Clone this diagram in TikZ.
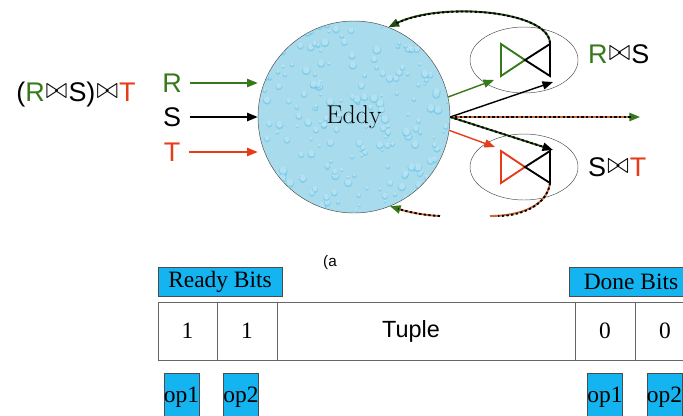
\documentclass[tikz,border=0pt]{standalone}
\usepackage{graphicx}
\usepackage{fontspec}
\newfontfamily\serifbits{Liberation Serif}
\newfontfamily\sanslbl{Liberation Sans}
\newcommand{\jn}{\hspace{0.04em}\raisebox{0.12em}{\resizebox{0.8em}{0.52em}{$\bowtie$}}\hspace{0.04em}}
\usetikzlibrary{arrows.meta,shapes.geometric,calc}

\definecolor{relgreen}{RGB}{55,120,25}
\definecolor{relred}{RGB}{232,60,25}
\definecolor{darkgreen}{RGB}{35,75,20}
\definecolor{rustorange}{RGB}{205,105,55}
\definecolor{bitcyan}{RGB}{20,180,240}
\definecolor{water}{RGB}{168,220,236}

\begin{document}
\begin{tikzpicture}[x=0.03cm,y=-0.03cm]
	\tikzset{
	  rel/.style={font=\sanslbl\fontsize{23}{27}\selectfont,inner sep=0pt},
	  feed/.style={line width=1.2pt,-{Triangle[length=9pt,width=7pt]}},
	  loopback/.style 2 args={line width=1.6pt,draw=#1,
	    postaction={draw=#2,dash pattern=on 2pt off 2pt,line width=1.6pt,-,shorten >=7pt}},
	  joinop/.style={ellipse,draw=black!70,thin,minimum width=3.24cm,minimum height=1.98cm},
	  cell/.style={draw=black!60,minimum height=1.74cm,inner sep=0pt,
	    font=\serifbits\fontsize{20}{24}\selectfont},
	  bits/.style={draw=black!70,fill=bitcyan,inner sep=0pt,minimum height=0.87cm,
	    font=\serifbits\fontsize{20}{24}\selectfont},
	  opbox/.style={bits,minimum width=1.05cm,minimum height=1.44cm},
	}

          \tikzset{
            pics/bowtie/.style={code={
              \draw[#1,line width=1.6pt,line join=miter]
                (-23,-16) -- (1,0) -- (-23,16) -- cycle;
              \draw[black,line width=1.6pt]
                (26,-19) -- (26,16) -- (1,0) -- (26,-16);
            }},
          }

        \useasboundingbox (0,0) rectangle (683,415);

        %QUERY
        \node[rel] (expr) at (76,95)
          {(\textcolor{relgreen}{R}\jn S)\jn\textcolor{relred}{T}};

        %INPUTS
        \node[rel,text=relgreen] (inR) at (172,83) {R};
        \node[rel] (inS) at (172,117) {S};
        \node[rel,text=relred] (inT) at (172,152) {T};

        %EDDY
        \node[circle,draw=black!70,fill=water,minimum size=5.76cm,inner sep=0pt] (eddy) at (354,117) {};
        \begin{scope}
          \clip (eddy.center) circle[radius=2.86cm];
          \pgfmathsetseed{11}
          \foreach \k in {1,...,240}{
            \pgfmathsetmacro{\dx}{354+98*rand}
            \pgfmathsetmacro{\dy}{117+98*rand}
            \pgfmathsetmacro{\dr}{0.04+0.10*rnd}
            \fill[cyan!50!water,opacity=0.5] (\dx,\dy+1) circle[radius=\dr cm];
            \fill[white,opacity=0.4] (\dx,\dy) circle[radius=0.8*\dr cm];
          }
        \end{scope}
        \node[font=\fontsize{22}{26}\selectfont] (eddyname) at (eddy) {Eddy};

        \draw[feed,relgreen] ([xshift=0.25cm]inR.east) -- (inR -| eddy.west);
        \draw[feed,black] ([xshift=0.25cm]inS.east) -- (inS -| eddy.west);
        \draw[feed,relred] ([xshift=0.25cm]inT.east) -- (inT -| eddy.west);

        %JOINS
        \node[joinop] (joinRS) at (524,60) {};
        \node[joinop] (joinST) at (524,167) {};
        \pic at (joinRS) {bowtie=relgreen};
        \pic at (joinST) {bowtie=relred};
        \node[rel,anchor=west] (lblRS) at (588,54) {\textcolor{relgreen}{R}\jn S};
        \node[rel,anchor=west] (lblST) at (588,167) {S\jn\textcolor{relred}{T}};

        %ROUTING
        \coordinate (exit) at (640,117);
        \draw[feed,relgreen] (eddy.12) -- ($(joinRS)+(-30,20)$);
        \draw[feed,black] (eddy.east) -- ($(joinRS)+(29,22)$);
        \draw[feed,relred] (eddy.-8) -- ($(joinST)+(-29,-20)$);
        \draw[loopback={rustorange}{black},-{Triangle[length=9pt,width=7pt,color=relgreen]}]
          (eddy.east) -- (exit);
        \draw[loopback={darkgreen}{black},-{Triangle[length=9pt,width=7pt,color=black]}]
          (eddy.east) -- ($(joinST)+(29,-17)$);

        % back to the eddy
        \draw[loopback={darkgreen}{black},-{Triangle[length=9pt,width=7pt,color=darkgreen]}]
          ($(joinRS)+(26,-17)$) .. controls (548,10) and (440,2) .. (eddy.69);
        \coordinate (gapR) at (490,216);
        \coordinate (gapL) at (440,216);
        \draw[loopback={rustorange}{black}]
          ($(joinST)+(26,16)$) .. controls (547,206) and (520,216) .. (gapR);
        \draw[loopback={rustorange}{black},-{Triangle[length=9pt,width=7pt,color=relgreen]}]
          (gapL) .. controls (420,215) and (405,211) .. (eddy.-68);

        \node[font=\sanslbl\fontsize{13}{15}\selectfont] (cap) at (330,263) {(a};

        %TUPLE
        \node[bits,minimum width=3.72cm] (ready) at (220,281.5) {Ready Bits};
        \node[bits,minimum width=3.72cm] (done) at (631,281.5) {Done Bits};
        \node[cell,minimum width=1.77cm] (rb1) at (187.5,331) {1};
        \node[cell,minimum width=1.80cm] (rb2) at (247,331) {1};
        \node[cell,minimum width=8.94cm,
          label={[font=\sanslbl\fontsize{20}{24}\selectfont,xshift=-0.45cm]center:Tuple}] (tuple) at (426,331) {};
        \node[cell,minimum width=1.80cm] (db1) at (605,331) {0};
        \node[cell,minimum width=1.80cm] (db2) at (665,331) {0};
        \node[opbox] (rop1) at (181.5,397) {op1};
        \node[opbox] (rop2) at (241,397) {op2};
        \node[opbox] (dop1) at (605,397) {op1};
        \node[opbox] (dop2) at (664.5,397) {op2};
    \end{tikzpicture}
\end{document}
